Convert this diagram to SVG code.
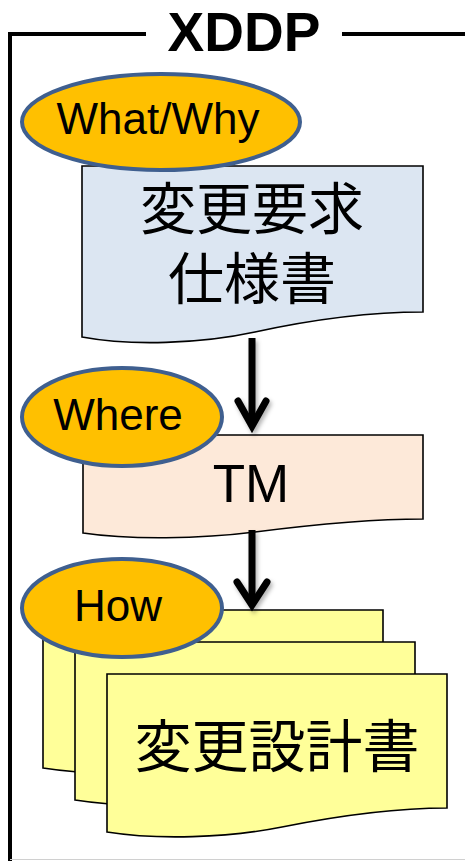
<svg xmlns="http://www.w3.org/2000/svg" width="465" height="861" viewBox="0 0 465 861">
<style>
.frame{fill:none;stroke:#000;stroke-width:4}
.doc{stroke:#000;stroke-width:1.6}
.blue{fill:#DCE6F2}
.peach{fill:#FDE9D9}
.yellow{fill:#FFFF99}
.oval{fill:#FFC000;stroke:#3F5F8F;stroke-width:4}
.lbl{font-family:"Liberation Sans",Arial,sans-serif;font-size:44px;fill:#000;text-anchor:middle}
.jp{font-family:"Noto Sans CJK JP","Noto Sans CJK SC",sans-serif;font-size:56px;fill:#000;text-anchor:middle}
.conn{fill:none;stroke:#000;stroke-width:7}
.head{fill:none;stroke:#000;stroke-width:7;stroke-linecap:round;stroke-linejoin:miter}
</style>
<defs>
<filter id="sh" x="-50%" y="-20%" width="200%" height="140%">
<feDropShadow dx="2" dy="3" stdDeviation="2" flood-color="#000" flood-opacity="0.3"/>
</filter>
<path id="ydoc" d="M0,0 H340 V134 C290,134 230,142 175,153 C120,164 50,166 0,158 Z"/>
</defs>
<rect x="0" y="0" width="465" height="861" fill="#fff"/>
<g id="frame">
<path class="frame" d="M10,861 V34 H146 M342,34 H465"/>
<text x="244" y="51" font-family="'Liberation Sans',Arial,sans-serif" font-size="55" font-weight="bold" text-anchor="middle">XDDP</text>
<line x1="10" y1="859.5" x2="465" y2="859.5" stroke="#d0d0d0" stroke-width="1"/>
</g>
<g id="spec">
<path class="doc blue" d="M82,166 H423 V312 C370,312 310,320 255,332 C200,344 130,346 82,337 Z"/>
<text class="jp"><tspan x="252" y="229">変更要求</tspan><tspan x="252" y="299">仕様書</tspan></text>
</g>
<g id="tm">
<path class="doc peach" d="M83,435 H423 V519 C370,519 310,525 255,532 C200,539 130,540 83,533 Z"/>
<text class="lbl" x="251" y="502" style="font-size:53px">TM</text>
</g>
<g id="design">
<use href="#ydoc" class="doc yellow" transform="translate(43,610)"/>
<use href="#ydoc" class="doc yellow" transform="translate(75,642)"/>
<use href="#ydoc" class="doc yellow" transform="translate(107,674)"/>
<text class="jp" x="277" y="767" style="font-size:57px">変更設計書</text>
</g>
<g id="connectors" filter="url(#sh)">
<line class="conn" x1="252" y1="338" x2="252" y2="426"/>
<path class="head" d="M238,401 L252,426 L266,401"/>
<line class="conn" x1="252" y1="530" x2="252" y2="605"/>
<path class="head" d="M237,582 L252,605 L267,582"/>
</g>
<g id="whatwhy">
<ellipse class="oval" cx="161" cy="122" rx="139" ry="48"/>
<text class="lbl" x="158" y="134">What/Why</text>
</g>
<g id="where">
<ellipse class="oval" cx="122" cy="417" rx="100" ry="49"/>
<text class="lbl" x="118" y="430">Where</text>
</g>
<g id="how">
<ellipse class="oval" cx="122" cy="608" rx="100" ry="49"/>
<text class="lbl" x="118" y="621">How</text>
</g>
</svg>
